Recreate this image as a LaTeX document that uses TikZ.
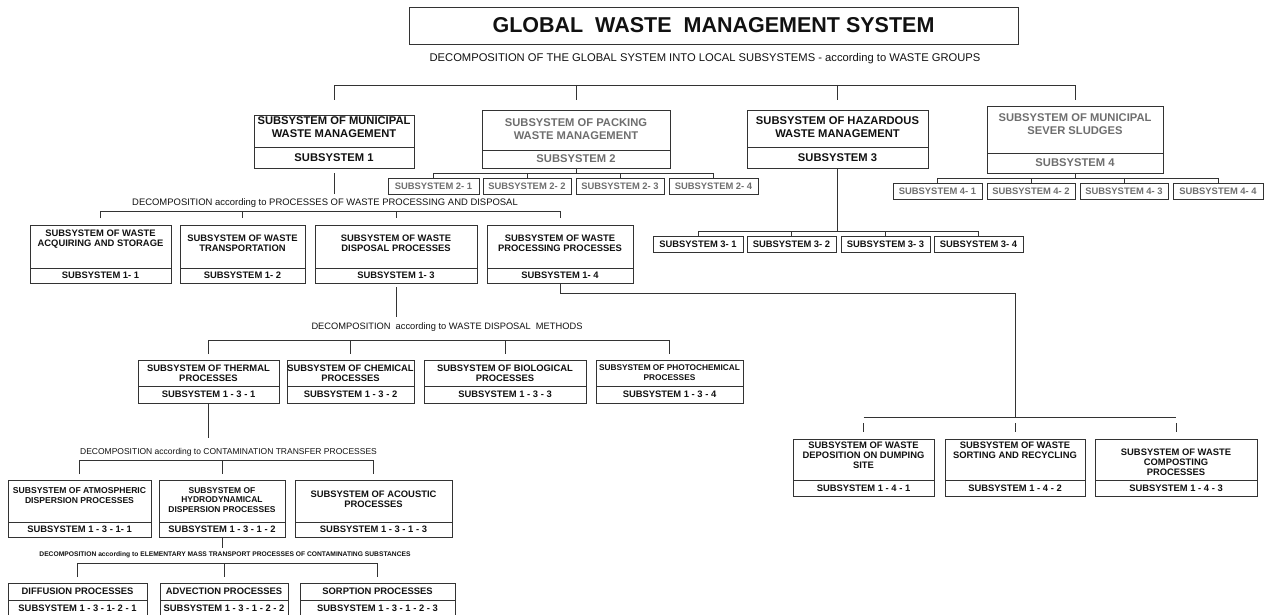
\documentclass[tikz,border=0pt]{standalone}
\usepackage{fontspec}
\setmainfont{Liberation Sans}
\usetikzlibrary{positioning}
\definecolor{Ink}{HTML}{111111}
\definecolor{Muted}{HTML}{6E6E6E}
\definecolor{Rule}{HTML}{333333}

\tikzset{
  frame/.style={draw=Rule, line width=0.8pt, inner sep=0pt, outer sep=0pt, text=Ink},
  headtxt/.style={font=\bfseries\fontsize{9.4}{10.2}\selectfont, align=center, inner sep=0pt, text=Ink},
  bigheadtxt/.style={font=\bfseries\fontsize{11.2}{13.2}\selectfont, align=center, inner sep=0pt, text=Ink},
  tag/.style={frame, font=\bfseries\fontsize{9.4}{10.2}\selectfont},
  bigtag/.style={frame, font=\bfseries\fontsize{11.2}{13.2}\selectfont},
  chip/.style={frame, font=\bfseries\fontsize{9.4}{10}\selectfont},
  note/.style={font=\fontsize{9.4}{10}\selectfont, inner sep=0pt, text=Ink},
  link/.style={draw=Rule, line width=0.8pt},
  muted/.style={text=Muted},
}

\begin{document}
\begin{tikzpicture}[x=1pt, y=1pt]
    \useasboundingbox (0,0) rectangle (1268,-615);

    % Global system
    \node[frame, minimum width=609pt, minimum height=37pt,
          font=\bfseries\fontsize{21.5}{24}\selectfont] (gwms) at (713.5,-25.5)
        {GLOBAL\ \ WASTE\ \ MANAGEMENT SYSTEM};
    \node[note, font=\fontsize{11.2}{13}\selectfont] (lab0) at (705,-59)
        {DECOMPOSITION OF THE GLOBAL SYSTEM INTO LOCAL SUBSYSTEMS - according to WASTE GROUPS};

    % Waste groups
    \node[frame, minimum width=160pt, minimum height=32pt] (m1) at (334,-131) {};
    \node[bigheadtxt, below=1pt of m1.north] (m1t) {SUBSYSTEM OF MUNICIPAL\\WASTE MANAGEMENT};
    \node[bigtag, minimum width=160pt, minimum height=21pt, below=0pt of m1] (m1s) {SUBSYSTEM 1};

    \node[frame, minimum width=188pt, minimum height=40pt] (m2) at (576,-130) {};
    \node[bigheadtxt, muted, below=8pt of m2.north] (m2t) {SUBSYSTEM OF PACKING\\WASTE MANAGEMENT};
    \node[bigtag, muted, minimum width=188pt, minimum height=18pt, below=0pt of m2] (m2s) {SUBSYSTEM 2};

    \node[frame, minimum width=181pt, minimum height=37pt] (m3) at (837.5,-128.5) {};
    \node[bigheadtxt, below=6pt of m3.north] (m3t) {SUBSYSTEM OF HAZARDOUS\\WASTE MANAGEMENT};
    \node[bigtag, minimum width=181pt, minimum height=21pt, below=0pt of m3] (m3s) {SUBSYSTEM 3};

    \node[frame, minimum width=176pt, minimum height=47pt] (m4) at (1075,-129.5) {};
    \node[bigheadtxt, muted, below=7pt of m4.north] (m4t) {SUBSYSTEM OF MUNICIPAL\\SEVER SLUDGES};
    \node[bigtag, muted, minimum width=176pt, minimum height=20pt, below=0pt of m4] (m4s) {SUBSYSTEM 4};

    % Small subsystems
    \node[chip, muted, minimum width=91pt, minimum height=16pt] (c21) at (433.5,-186) {SUBSYSTEM 2- 1};
    \node[chip, muted, minimum width=88pt, minimum height=16pt] (c22) at (527,-186) {SUBSYSTEM 2- 2};
    \node[chip, muted, minimum width=88pt, minimum height=16pt] (c23) at (620,-186) {SUBSYSTEM 2- 3};
    \node[chip, muted, minimum width=89pt, minimum height=16pt] (c24) at (713.5,-186) {SUBSYSTEM 2- 4};

    \node[chip, minimum width=90pt, minimum height=16pt] (c31) at (698,-244) {SUBSYSTEM 3- 1};
    \node[chip, minimum width=89pt, minimum height=16pt] (c32) at (791.5,-244) {SUBSYSTEM 3- 2};
    \node[chip, minimum width=89pt, minimum height=16pt] (c33) at (885.5,-244) {SUBSYSTEM 3- 3};
    \node[chip, minimum width=89pt, minimum height=16pt] (c34) at (978.5,-244) {SUBSYSTEM 3- 4};

    \node[chip, muted, minimum width=89pt, minimum height=16pt] (c41) at (937.5,-191) {SUBSYSTEM 4- 1};
    \node[chip, muted, minimum width=88pt, minimum height=16pt] (c42) at (1031,-191) {SUBSYSTEM 4- 2};
    \node[chip, muted, minimum width=88pt, minimum height=16pt] (c43) at (1124,-191) {SUBSYSTEM 4- 3};
    \node[chip, muted, minimum width=90pt, minimum height=16pt] (c44) at (1218,-191) {SUBSYSTEM 4- 4};

    % Processes of waste processing and disposal
    \node[note, font=\fontsize{9.45}{10}\selectfont] (lab1) at (325,-203)
        {DECOMPOSITION according to PROCESSES OF WASTE PROCESSING AND DISPOSAL};

    \node[frame, minimum width=141pt, minimum height=43pt] (p1) at (100.5,-246.5) {};
    \node[headtxt, below=5pt of p1.north] (p1t) {SUBSYSTEM OF WASTE\\ACQUIRING AND STORAGE};
    \node[tag, minimum width=141pt, minimum height=15pt, below=0pt of p1] (p1s) {SUBSYSTEM 1- 1};

    \node[frame, minimum width=125pt, minimum height=43pt] (p2) at (242.5,-246.5) {};
    \node[headtxt, below=10pt of p2.north] (p2t) {SUBSYSTEM OF WASTE\\TRANSPORTATION};
    \node[tag, minimum width=125pt, minimum height=15pt, below=0pt of p2] (p2s) {SUBSYSTEM 1- 2};

    \node[frame, minimum width=162pt, minimum height=43pt] (p3) at (396,-246.5) {};
    \node[headtxt, below=10pt of p3.north] (p3t) {SUBSYSTEM OF WASTE\\DISPOSAL PROCESSES};
    \node[tag, minimum width=162pt, minimum height=15pt, below=0pt of p3] (p3s) {SUBSYSTEM 1- 3};

    \node[frame, minimum width=146pt, minimum height=43pt] (p4) at (560,-246.5) {};
    \node[headtxt, below=10pt of p4.north] (p4t) {SUBSYSTEM OF WASTE\\PROCESSING PROCESSES};
    \node[tag, minimum width=146pt, minimum height=15pt, below=0pt of p4] (p4s) {SUBSYSTEM 1- 4};

    % Waste disposal methods
    \node[note, font=\fontsize{9.3}{10}\selectfont] (lab2) at (447,-327)
        {DECOMPOSITION\ \ according to WASTE DISPOSAL\ \ METHODS};

    \node[frame, minimum width=141pt, minimum height=26pt] (d1) at (208.5,-373) {};
    \node[headtxt, below=4.7pt of d1.north] (d1t) {SUBSYSTEM OF THERMAL\\PROCESSES};
    \node[tag, minimum width=141pt, minimum height=17pt, below=0pt of d1] (d1s) {SUBSYSTEM 1 - 3 - 1};

    \node[frame, minimum width=127pt, minimum height=26pt] (d2) at (350.5,-373) {};
    \node[headtxt, below=4.7pt of d2.north] (d2t) {SUBSYSTEM OF CHEMICAL\\PROCESSES};
    \node[tag, minimum width=127pt, minimum height=17pt, below=0pt of d2] (d2s) {SUBSYSTEM 1 - 3 - 2};

    \node[frame, minimum width=162pt, minimum height=26pt] (d3) at (505,-373) {};
    \node[headtxt, below=4.7pt of d3.north] (d3t) {SUBSYSTEM OF BIOLOGICAL\\PROCESSES};
    \node[tag, minimum width=162pt, minimum height=17pt, below=0pt of d3] (d3s) {SUBSYSTEM 1 - 3 - 3};

    \node[frame, minimum width=147pt, minimum height=26pt] (d4) at (669.5,-373) {};
    \node[headtxt, font=\bfseries\fontsize{8.3}{10}\selectfont, below=5pt of d4.north] (d4t)
        {SUBSYSTEM OF PHOTOCHEMICAL\\PROCESSES};
    \node[tag, minimum width=147pt, minimum height=17pt, below=0pt of d4] (d4s) {SUBSYSTEM 1 - 3 - 4};

    % Contamination transfer processes
    \node[note, font=\fontsize{8.5}{10}\selectfont] (lab3) at (228.5,-452)
        {DECOMPOSITION according to CONTAMINATION TRANSFER PROCESSES};

    \node[frame, minimum width=143pt, minimum height=42pt] (t1) at (79.5,-501) {};
    \node[headtxt, font=\bfseries\fontsize{8.6}{9.8}\selectfont, below=7pt of t1.north] (t1t)
        {SUBSYSTEM OF ATMOSPHERIC\\DISPERSION PROCESSES};
    \node[tag, minimum width=143pt, minimum height=15pt, below=0pt of t1] (t1s) {SUBSYSTEM 1 - 3 - 1- 1};

    \node[frame, minimum width=126pt, minimum height=42pt] (t2) at (222,-501) {};
    \node[headtxt, font=\bfseries\fontsize{8.45}{9.6}\selectfont, below=7pt of t2.north] (t2t)
        {SUBSYSTEM OF\\HYDRODYNAMICAL\\DISPERSION PROCESSES};
    \node[tag, minimum width=126pt, minimum height=15pt, below=0pt of t2] (t2s) {SUBSYSTEM 1 - 3 - 1 - 2};

    \node[frame, minimum width=157pt, minimum height=42pt] (t3) at (373.5,-501) {};
    \node[headtxt, below=10.5pt of t3.north] (t3t) {SUBSYSTEM OF ACOUSTIC\\PROCESSES};
    \node[tag, minimum width=157pt, minimum height=15pt, below=0pt of t3] (t3s) {SUBSYSTEM 1 - 3 - 1 - 3};

    % Elementary mass transport
    \node[note, font=\bfseries\fontsize{6.7}{8}\selectfont] (lab4) at (225,-555)
        {DECOMPOSITION according to ELEMENTARY MASS TRANSPORT PROCESSES OF CONTAMINATING SUBSTANCES};

    \node[tag, minimum width=139pt, minimum height=17pt] (e1) at (77.5,-591.5) {DIFFUSION PROCESSES};
    \node[tag, minimum width=139pt, minimum height=17pt, below=0pt of e1] (e1s) {SUBSYSTEM 1 - 3 - 1- 2 - 1};
    \node[tag, minimum width=128pt, minimum height=17pt] (e2) at (224,-591.5) {ADVECTION PROCESSES};
    \node[tag, minimum width=128pt, minimum height=17pt, below=0pt of e2] (e2s) {SUBSYSTEM 1 - 3 - 1 - 2 - 2};
    \node[tag, minimum width=155pt, minimum height=17pt] (e3) at (377.5,-591.5) {SORPTION PROCESSES};
    \node[tag, minimum width=155pt, minimum height=17pt, below=0pt of e3] (e3s) {SUBSYSTEM 1 - 3 - 1 - 2 - 3};

    % Waste processing processes
    \node[frame, minimum width=141pt, minimum height=41pt] (w1) at (863.5,-459.5) {};
    \node[headtxt, below=2.7pt of w1.north] (w1t) {SUBSYSTEM OF WASTE\\DEPOSITION ON DUMPING\\SITE};
    \node[tag, minimum width=141pt, minimum height=16pt, below=0pt of w1] (w1s) {SUBSYSTEM 1 - 4 - 1};

    \node[frame, minimum width=140pt, minimum height=41pt] (w2) at (1015,-459.5) {};
    \node[headtxt, below=2.7pt of w2.north] (w2t) {SUBSYSTEM OF WASTE\\SORTING AND RECYCLING};
    \node[tag, minimum width=140pt, minimum height=16pt, below=0pt of w2] (w2s) {SUBSYSTEM 1 - 4 - 2};

    \node[frame, minimum width=162pt, minimum height=41pt] (w3) at (1176,-459.5) {};
    \node[headtxt, below=9.7pt of w3.north] (w3t) {SUBSYSTEM OF WASTE\\COMPOSTING\\PROCESSES};
    \node[tag, minimum width=162pt, minimum height=16pt, below=0pt of w3] (w3s) {SUBSYSTEM 1 - 4 - 3};

    % Connectors
    \coordinate (busA) at (0,-85);
    \coordinate (dropA) at (0,-100);
    \draw[link] (m1.north |- dropA) -- (m1.north |- busA) -- (m4.north |- busA) -- (m4.north |- dropA);
    \foreach \k in {2,3} \draw[link] (m\k.north |- busA) -- (m\k.north |- dropA);

    \coordinate (busB) at (0,-173);
    \draw[link] (m2s.south) -- (m2s.south |- busB);
    \draw[link] (c21.north |- busB) -- (c24.north |- busB);
    \foreach \k in {1,...,4} \draw[link] (c2\k.north) -- (c2\k.north |- busB);

    \coordinate (busC) at (0,-231);
    \draw[link] (m3s.south) -- (m3s.south |- busC);
    \draw[link] (c31.north |- busC) -- (c34.north |- busC);
    \foreach \k in {1,...,4} \draw[link] (c3\k.north) -- (c3\k.north |- busC);

    \coordinate (busD) at (0,-178);
    \draw[link] (m4s.south) -- (m4s.south |- busD);
    \draw[link] (c41.north |- busD) -- (c44.north |- busD);
    \foreach \k in {1,...,4} \draw[link] (c4\k.north) -- (c4\k.north |- busD);

    \coordinate (g1a) at (0,-173);
    \coordinate (g1b) at (0,-194);
    \draw[link] (m1s.south |- g1a) -- (m1s.south |- g1b);

    \coordinate (busE) at (0,-211);
    \coordinate (dropE) at (0,-218);
    \draw[link] (p1.north |- dropE) -- (p1.north |- busE) -- (p4.north |- busE) -- (p4.north |- dropE);
    \foreach \k in {2,3} \draw[link] (p\k.north |- busE) -- (p\k.north |- dropE);

    \coordinate (g3a) at (0,-287);
    \coordinate (g3b) at (0,-317);
    \draw[link] (p3s.south |- g3a) -- (p3s.south |- g3b);

    \coordinate (busF) at (0,-340);
    \coordinate (dropF) at (0,-354);
    \draw[link] (d1.north |- dropF) -- (d1.north |- busF) -- (d4.north |- busF) -- (d4.north |- dropF);
    \foreach \k in {2,3} \draw[link] (d\k.north |- busF) -- (d\k.north |- dropF);

    \coordinate (jog) at (0,-293);
    \coordinate (busG) at (0,-417);
    \coordinate (tickA) at (0,-423);
    \coordinate (tickB) at (0,-432);
    \draw[link] (p4s.south) -- (p4s.south |- jog) -| (w2.north |- busG);
    \draw[link] (w1.north |- busG) -- (w3.north |- busG);
    \foreach \k in {1,2,3} \draw[link] (w\k.north |- tickA) -- (w\k.north |- tickB);

    \coordinate (g4) at (0,-438);
    \draw[link] (d1s.south) -- (d1s.south |- g4);

    \coordinate (busH) at (0,-460);
    \coordinate (dropH) at (0,-474);
    \draw[link] (t1.north |- dropH) -- (t1.north |- busH) -- (t3.north |- busH) -- (t3.north |- dropH);
    \draw[link] (t2.north |- busH) -- (t2.north |- dropH);

    \coordinate (g5) at (0,-548);
    \draw[link] (t2s.south) -- (t2s.south |- g5);

    \coordinate (busI) at (0,-563);
    \coordinate (dropI) at (0,-577);
    \draw[link] (e1.north |- dropI) -- (e1.north |- busI) -- (e3.north |- busI) -- (e3.north |- dropI);
    \draw[link] (e2.north |- busI) -- (e2.north |- dropI);
\end{tikzpicture}
\end{document}
